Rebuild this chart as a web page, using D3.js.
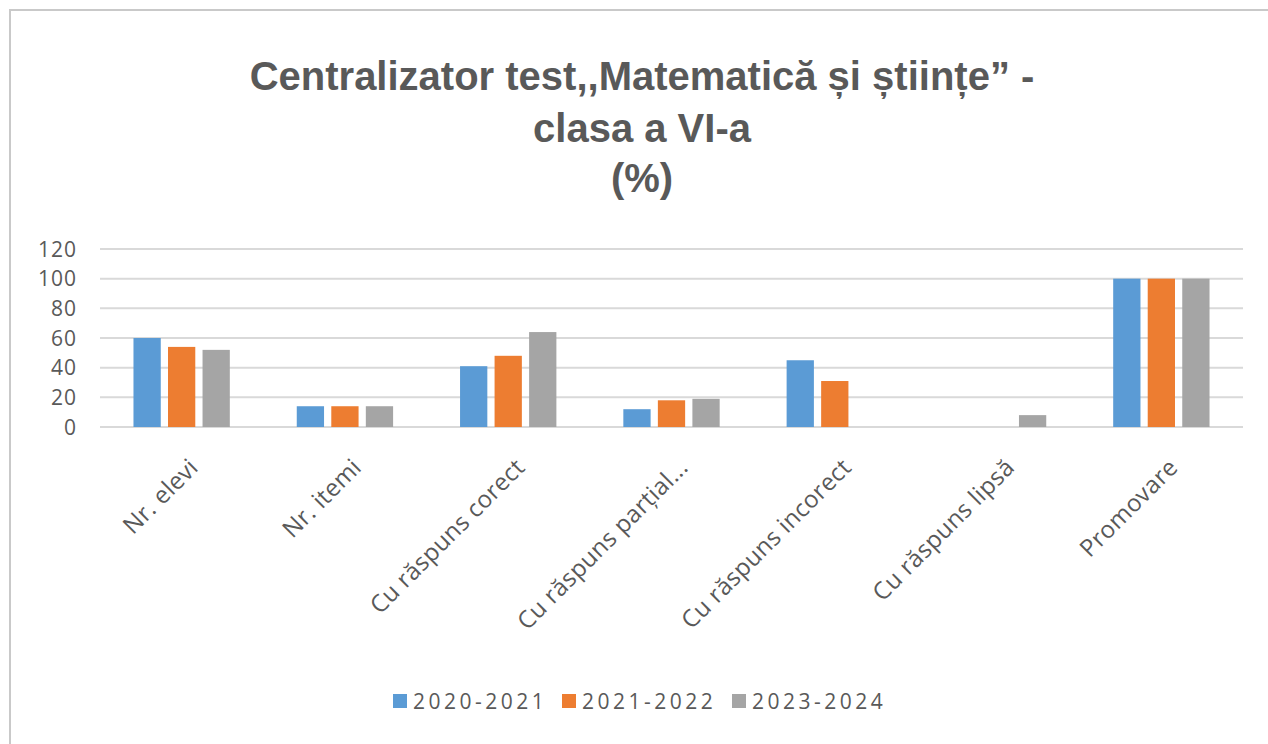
<!DOCTYPE html>
<html>
<head>
<meta charset="utf-8">
<script src="https://cdn.jsdelivr.net/npm/d3@7.9.0/dist/d3.min.js"></script>
<style>
  body { margin: 0; background: #fff; }
  svg { display: block; }
</style>
</head>
<body>
<svg id="chart" width="1268" height="744"></svg>
<script>
const categories = [
  "Nr. elevi",
  "Nr. itemi",
  "Cu răspuns corect",
  "Cu răspuns parțial...",
  "Cu răspuns incorect",
  "Cu răspuns lipsă",
  "Promovare",
];
const seriesNames = ["2020-2021", "2021-2022", "2023-2024"];
const values2020 = [60, 14, 41, 12, 45, 0, 100];
const values2021 = [54, 14, 48, 18, 31, 0, 100];
const values2023 = [52, 14, 64, 19, 0, 8, 100];
const yTicks = [0, 20, 40, 60, 80, 100, 120];
const titleLines = ["Centralizator test,,Matematică și științe” -", "clasa a VI-a", "(%)"];

const colors = ["#5b9bd5", "#ed7d31", "#a5a5a5"];
const seriesValues = [values2020, values2021, values2023];

const svg = d3.select("#chart");

// outer chart border (runs past the right and bottom edges)
svg.append("rect")
  .attr("x", 10).attr("y", 10)
  .attr("width", 1290).attr("height", 760)
  .attr("fill", "none")
  .attr("stroke", "#c9c9c9")
  .attr("stroke-width", 2);

// title
const titleY = [90, 142, 192];
svg.append("g")
  .selectAll("text")
  .data(titleLines)
  .join("text")
  .attr("x", 642)
  .attr("y", (d, i) => titleY[i])
  .attr("text-anchor", "middle")
  .attr("font-family", "'Liberation Sans Narrow', 'Liberation Sans', sans-serif")
  .attr("font-weight", "bold")
  .attr("font-size", 40)
  .attr("fill", "#595959")
  .text((d) => d);

const plot = { left: 100, right: 1243, top: 249, bottom: 427 };

const x0 = d3.scaleBand()
  .domain(categories)
  .range([plot.left, plot.right])
  .paddingInner(0)
  .paddingOuter(0);

const bw = x0.bandwidth();
const x1 = d3.scaleBand()
  .domain(seriesNames)
  .range([bw * 0.205, bw * 0.795])
  .paddingInner(0.21);

const y = d3.scaleLinear()
  .domain([0, 120])
  .range([plot.bottom, plot.top]);

// gridlines
svg.append("g")
  .selectAll("line")
  .data(yTicks)
  .join("line")
  .attr("x1", plot.left)
  .attr("x2", plot.right)
  .attr("y1", (d) => y(d))
  .attr("y2", (d) => y(d))
  .attr("stroke", "#d9d9d9")
  .attr("stroke-width", 2);

// y tick labels
svg.append("g")
  .selectAll("text")
  .data(yTicks)
  .join("text")
  .attr("x", 77)
  .attr("y", (d) => y(d))
  .attr("dy", "0.36em")
  .attr("text-anchor", "end")
  .attr("font-family", "'Open Sans', sans-serif")
  .attr("font-size", 21)
  .attr("letter-spacing", 1)
  .attr("fill", "#595959")
  .text((d) => d);

// bars
const groups = svg.append("g")
  .selectAll("g")
  .data(categories)
  .join("g")
  .attr("transform", (d) => `translate(${x0(d)},0)`);

groups.selectAll("rect")
  .data((d, ci) => seriesNames.map((s, si) => ({ s, si, v: seriesValues[si][ci] })))
  .join("rect")
  .filter((d) => d.v > 0)
  .attr("x", (d) => x1(d.s))
  .attr("width", x1.bandwidth())
  .attr("y", (d) => y(d.v))
  .attr("height", (d) => y(0) - y(d.v))
  .attr("fill", (d) => colors[d.si]);

// category labels, rotated
svg.append("g")
  .selectAll("text")
  .data(categories)
  .join("text")
  .attr("transform", (d) => `translate(${x0(d) + bw / 2 + 12},${plot.bottom + 36}) rotate(-45)`)
  .attr("text-anchor", "end")
  .attr("dy", "0.35em")
  .attr("font-family", "'Open Sans', sans-serif")
  .attr("font-size", 24)
  .attr("letter-spacing", 0.3)
  .attr("fill", "#595959")
  .text((d) => d);

// legend
const legend = svg.append("g").attr("transform", "translate(393,701)");
const legendX = [0, 169, 339];
const items = legend.selectAll("g")
  .data(seriesNames)
  .join("g")
  .attr("transform", (d, i) => `translate(${legendX[i]},0)`);
items.append("rect")
  .attr("x", 0).attr("y", -7)
  .attr("width", 14).attr("height", 14)
  .attr("fill", (d, i) => colors[i]);
items.append("text")
  .attr("x", 20)
  .attr("dy", "0.36em")
  .attr("font-family", "'Open Sans', sans-serif")
  .attr("font-size", 21)
  .attr("letter-spacing", 3.5)
  .attr("fill", "#595959")
  .text((d) => d);
</script>
</body>
</html>
